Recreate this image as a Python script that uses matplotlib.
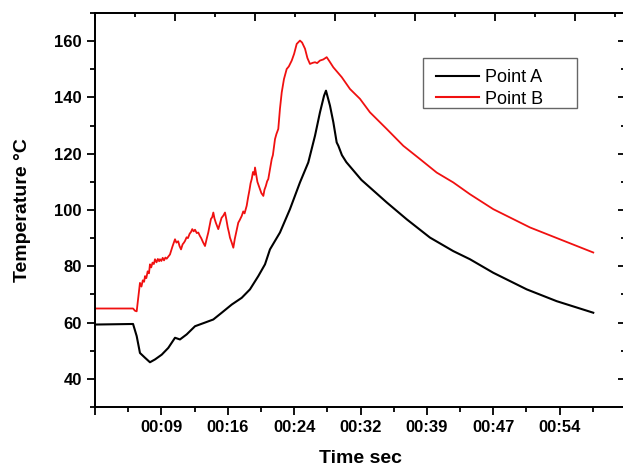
import matplotlib
matplotlib.use("Agg")
import matplotlib.pyplot as plt
from matplotlib.patches import Rectangle
from matplotlib.ticker import FixedLocator, MultipleLocator, NullFormatter

plt.rcParams['font.family'] = ['Liberation Sans', 'DejaVu Sans']

# ---- data (time in seconds, temperature in °C) ----
time_a = [1.5, 5.8, 6.21, 6.58, 7.15, 7.71, 8.28, 9.04, 9.78, 10.54, 11.10, 11.86,
          12.80, 13.93, 14.87, 15.82, 16.95, 18.08, 19.01, 19.95, 20.71, 21.27,
          22.40, 23.53, 24.66, 25.60, 26.36, 26.92, 27.38, 27.60, 28.05, 28.43,
          28.81, 29.00, 29.40, 29.90, 31.60, 34.46, 36.72, 39.35, 41.98, 43.87, 46.50,
          50.28, 53.67, 57.80]
temp_a = [59.3, 59.5, 55.2, 49.2, 47.5, 45.9, 46.9, 48.6, 51.0, 54.6, 54.0, 55.8,
          58.7, 60.0, 61.1, 63.5, 66.4, 68.8, 71.8, 76.5, 80.7, 86.0,
          92.0, 100.3, 109.8, 116.9, 126.4, 134.7, 140.6, 142.4, 137.1, 131.2,
          124.0, 122.8, 119.5, 117.0, 110.7, 102.7, 96.7, 90.2, 85.4, 82.5, 77.7,
          71.8, 67.6, 63.5]

time_b = [1.5, 5.8, 6.02, 6.21,
          6.58, 6.75, 6.9, 7.05, 7.15, 7.3, 7.45, 7.6, 7.71, 7.85, 8.0, 8.15, 8.28,
          8.45, 8.6, 8.75, 8.84, 9.0, 9.15, 9.3, 9.45, 9.6, 9.8, 9.97, 10.1, 10.25,
          10.4, 10.54, 10.7, 10.9, 11.05, 11.22, 11.4, 11.55, 11.67, 11.85, 12.0,
          12.2, 12.35, 12.49, 12.65, 12.8, 13.0, 13.17, 13.35, 13.5, 13.7, 13.93,
          14.1, 14.30, 14.45, 14.6, 14.75, 14.87, 15.0, 15.15, 15.3, 15.43, 15.6,
          15.8, 16.0, 16.19, 16.35, 16.5, 16.65, 16.75, 16.95, 17.13, 17.3, 17.45,
          17.55, 17.69, 17.85, 18.08, 18.25, 18.4, 18.64, 18.8, 18.95, 19.08, 19.21,
          19.35, 19.5, 19.58, 19.7, 19.85, 20.0, 20.14, 20.3, 20.52, 20.65, 20.8,
          20.95, 21.08, 21.25, 21.47, 21.6, 21.84, 22.0, 22.21, 22.4, 22.60, 22.85,
          23.16, 23.4, 23.73, 24.0, 24.29, 24.66, 24.9, 25.23, 25.5, 25.79, 26.1,
          26.36, 26.6, 26.92, 27.3, 27.68, 28.0, 28.43,
          29.38, 30.31, 31.44, 32.57, 34.46, 36.34, 38.22, 40.11, 41.98, 43.87,
          46.50, 50.65, 54.04, 57.80]
temp_b = [65.0, 65.0, 64.2, 64.0,
          74.1, 72.8, 75.0, 74.5, 76.5, 75.8, 78.2, 77.5, 80.7, 79.6, 81.3, 80.8, 82.5,
          81.4, 82.6, 81.8, 82.5, 81.9, 83.0, 82.1, 83.1, 82.7, 83.5, 84.2, 85.5, 87.0,
          88.3, 89.6, 88.4, 88.9, 87.2, 86.0, 87.8, 88.4, 89.0, 90.3, 90.0,
          91.6, 92.2, 93.2, 92.4, 93.0, 91.8, 92.0, 90.8, 90.0, 88.6, 87.2,
          89.5, 92.0, 94.5, 96.8, 97.5, 99.1, 97.0, 95.5, 94.3, 93.2, 95.0,
          97.2, 98.0, 99.1, 96.5, 93.8, 91.8, 90.2, 88.4, 86.6, 89.8, 92.0,
          93.5, 95.5, 96.4, 97.9, 99.5, 98.8, 101.5, 104.5, 107.0, 109.5, 111.0,
          113.5, 112.5, 115.1, 112.8, 110.0, 108.6, 107.4, 106.0, 105.0, 107.2, 108.5,
          110.2, 111.0, 114.0, 118.1, 119.5, 125.2, 127.0, 128.8, 136.0, 141.8, 146.5,
          150.1, 151.0, 153.1, 155.5, 159.0, 160.2, 159.5, 157.3, 154.0, 151.9, 152.3,
          152.5, 152.2, 153.1, 153.5, 154.3, 152.8, 150.7,
          147.2, 143.0, 139.5, 134.7, 128.8, 122.8, 118.1, 113.3, 109.8, 105.6,
          100.3, 93.8, 89.6, 84.9]

x_ticks = [1.5, 9.0, 16.5, 24.0, 31.5, 39.0, 46.5, 54.0, 61.5]
x_tick_labels = ["", "00:09", "00:16", "00:24", "00:32", "00:39", "00:47", "00:54", ""]
y_ticks = [40, 60, 80, 100, 120, 140, 160]

# ---- figure ----
fig = plt.figure(figsize=(6.23, 4.69), dpi=100)
ax = fig.add_axes([95/623, 1-407/469, (626-95)/623, (407-13)/469])

ax.plot(time_a, temp_a, color='black', lw=1.5, label='Point A')
ax.plot(time_b, temp_b, color='#f01010', lw=1.3, label='Point B')

ax.set_xlim(1.5, 61.5)
ax.set_ylim(30, 170)

ax.xaxis.set_major_locator(FixedLocator(x_ticks))
ax.set_xticklabels(x_tick_labels)
ax.xaxis.set_minor_locator(FixedLocator([x + 3.75 for x in x_ticks[:-1]]))
ax.yaxis.set_major_locator(FixedLocator(y_ticks))
ax.yaxis.set_minor_locator(MultipleLocator(10))

for lab in ax.get_xticklabels() + ax.get_yticklabels():
    lab.set_fontweight('bold')
    lab.set_fontsize(12)

ax.tick_params(axis='both', which='major', direction='out', length=6, width=1.3, pad=3.5)
ax.tick_params(axis='both', which='minor', direction='out', length=3.5, width=1.3)
ax.tick_params(axis='y', which='both', right=True, labelright=False)
# right side ticks inward
for t in ax.yaxis.get_major_ticks():
    t.tick2line.set_marker(matplotlib.markers.TICKLEFT)
    t.tick2line.set_markersize(6)
for t in ax.yaxis.get_minor_ticks():
    t.tick2line.set_marker(matplotlib.markers.TICKLEFT)
    t.tick2line.set_markersize(3.5)

for s in ax.spines.values():
    s.set_linewidth(1.3)

# top axis with its own inward ticks
top = ax.twiny()
top.set_xlim(1.5, 61.5)
top_major = [1.5 + 9.04 * k for k in range(7)]
top.xaxis.set_major_locator(FixedLocator(top_major))
top.xaxis.set_minor_locator(FixedLocator([v + 4.52 for v in top_major]))
top.xaxis.set_major_formatter(NullFormatter())
top.tick_params(axis='x', which='major', direction='in', length=6, width=1.3)
top.tick_params(axis='x', which='minor', direction='in', length=3, width=1.3)
for s in top.spines.values():
    s.set_linewidth(1.3)

ax.set_xlabel('Time sec', fontsize=14, fontweight='bold', labelpad=11)
ax.set_ylabel('Temperature °C', fontsize=14, fontweight='bold', labelpad=17)

leg = ax.legend(loc='upper left',
                bbox_to_anchor=(428/623, 1-61/469),
                bbox_transform=fig.transFigure, borderaxespad=0,
                fontsize=13, frameon=False,
                handlelength=2.4, handletextpad=0.3,
                borderpad=0.45, labelspacing=0.25)
for line in leg.get_lines():
    line.set_linewidth(1.5)

# legend frame
fig.add_artist(Rectangle((423/623, 1-108/469), 154/623, 50/469,
                         transform=fig.transFigure, fill=False,
                         edgecolor='#666666', lw=1.0))

fig.savefig('out.png', dpi=100)
